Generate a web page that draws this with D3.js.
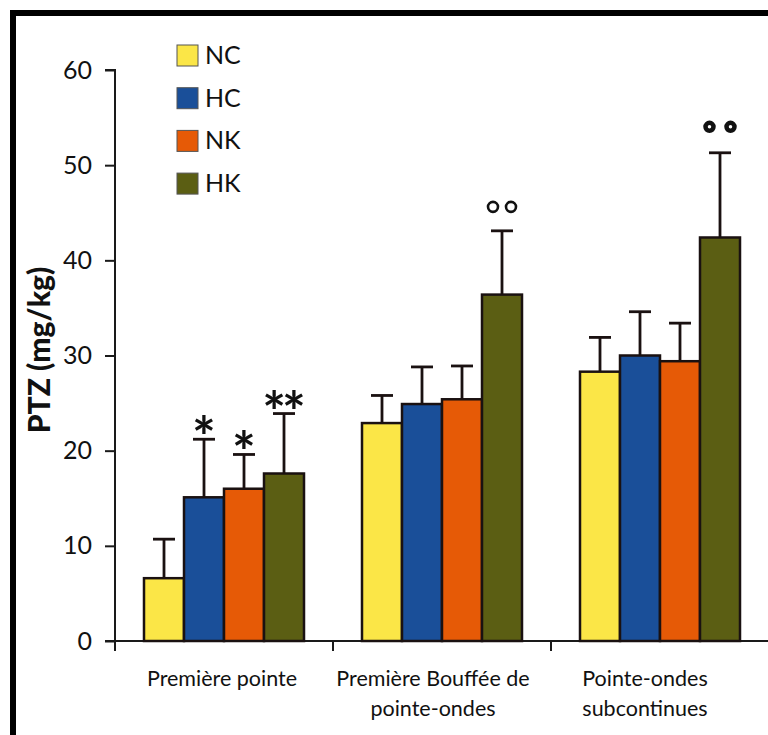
<!DOCTYPE html>
<html>
<head>
<meta charset="utf-8">
<script src="https://cdn.jsdelivr.net/npm/d3@7"></script>
<style>
  html, body { margin: 0; padding: 0; background: #fff; }
  svg { display: block; }
  text { font-family: Lato, "Open Sans", sans-serif; fill: #111; }
</style>
</head>
<body>
<svg id="chart" width="768" height="735"></svg>
<script>
// PTZ threshold doses by seizure stage and animal group
const categories = [["Première pointe"], ["Première Bouffée de", "pointe-ondes"], ["Pointe-ondes", "subcontinues"]];
const groups = ["NC", "HC", "NK", "HK"];
const colors = ["#fbe647", "#1a4f99", "#e65a06", "#5b5e13"];
const means = [
  [6.6, 15.1, 16.0, 17.6],
  [22.9, 24.9, 25.4, 36.4],
  [28.3, 30.0, 29.4, 42.4]
];
const errors = [
  [4.1, 6.1, 3.6, 6.3],
  [2.9, 3.9, 3.5, 6.7],
  [3.6, 4.6, 4.0, 8.9]
];
const marks = [
  ["", "*", "*", "**"],
  ["", "", "", "oo"],
  ["", "", "", "••"]
];
const yTicks = [0, 10, 20, 30, 40, 50, 60];

const svg = d3.select("#chart");
const W = 768, H = 735;
const plotLeft = 115, plotBottom = 641, plotTop = 70;

// frame (top and left rules)
svg.append("rect").attr("x", 10).attr("y", 10).attr("width", W).attr("height", 6).attr("fill", "#000");
svg.append("rect").attr("x", 10).attr("y", 10).attr("width", 6).attr("height", H).attr("fill", "#000");

const x = d3.scaleBand().domain(d3.range(categories.length)).range([plotLeft, plotLeft + 218 * 3]).padding(0);
const y = d3.scaleLinear().domain([0, 60]).range([plotBottom, plotTop]);
const inner = d3.scaleBand().domain(groups).range([0, 160]).padding(0);
const groupOffset = (x.bandwidth() - 160) / 2;

// y axis
const yAxis = svg.append("g").attr("transform", `translate(${plotLeft},0)`)
  .call(d3.axisLeft(y).tickValues(yTicks).tickSize(10).tickPadding(13));
yAxis.select(".domain").attr("stroke", "#1a1a1a").attr("stroke-width", 2).attr("d", `M-10,${y(60)}H0V${plotBottom}`);
yAxis.selectAll(".tick line").attr("stroke", "#1a1a1a").attr("stroke-width", 2);
yAxis.selectAll(".tick text").attr("font-size", 25).attr("font-family", "Lato, sans-serif").attr("fill", "#111");

// x axis
const xAxisG = svg.append("g").attr("transform", `translate(0,${plotBottom})`);
xAxisG.append("line").attr("x1", plotLeft - 10).attr("x2", W).attr("y1", 0).attr("y2", 0)
  .attr("stroke", "#1a1a1a").attr("stroke-width", 2);
xAxisG.selectAll("line.tk").data(d3.range(categories.length + 1)).join("line").attr("class", "tk")
  .attr("x1", i => plotLeft + i * x.step()).attr("x2", i => plotLeft + i * x.step())
  .attr("y1", 0).attr("y2", 10).attr("stroke", "#1a1a1a").attr("stroke-width", 2);

// category labels
const labelShift = [-2, -9, -15];
categories.forEach((lines, i) => {
  const cx = x(i) + x.bandwidth() / 2 + labelShift[i];
  const t = svg.append("text").attr("text-anchor", "middle").attr("font-size", 21.5)
    .attr("x", cx).attr("y", 686);
  lines.forEach((ln, j) => {
    t.append("tspan").attr("x", cx).attr("dy", j === 0 ? 0 : 30).text(ln);
  });
});

// y axis title
svg.append("text").attr("transform", `translate(50,350) rotate(-90)`)
  .attr("text-anchor", "middle").attr("font-size", 30).attr("font-weight", "900").text("PTZ (mg/kg)");

// bars with error bars and significance marks
categories.forEach((c, i) => {
  const g = svg.append("g").attr("transform", `translate(${x(i) + groupOffset},0)`);
  groups.forEach((grp, k) => {
    const bx = inner(grp), bw = inner.bandwidth();
    const cx = bx + bw / 2;
    const top0 = y(means[i][k]), topE = y(means[i][k] + errors[i][k]);
    g.append("line").attr("x1", cx).attr("x2", cx).attr("y1", top0).attr("y2", topE)
      .attr("stroke", "#1a1111").attr("stroke-width", 2.8);
    g.append("line").attr("x1", cx - 11).attr("x2", cx + 11).attr("y1", topE).attr("y2", topE)
      .attr("stroke", "#1a1111").attr("stroke-width", 2.8);
    g.append("rect").attr("x", bx).attr("y", top0).attr("width", bw).attr("height", plotBottom - top0)
      .attr("fill", colors[k]).attr("stroke", "#1a1111").attr("stroke-width", 2.5);
    const m = marks[i][k];
    if (m.startsWith("*")) {
      const multi = m.length > 1;
      g.append("text").attr("x", cx).attr("y", topE + 18).attr("text-anchor", "middle")
        .attr("dx", multi ? -2 : 0)
        .attr("letter-spacing", multi ? -4 : 0)
        .attr("font-size", 56).attr("font-weight", "bold")
        .attr("font-family", "DejaVu Sans, sans-serif").text(m);
    } else if (m === "oo" || m === "••") {
      const heavy = m === "••";
      const sep = heavy ? 10.5 : 9;
      [-sep, sep].forEach(dx => {
        g.append("circle").attr("cx", cx + dx).attr("cy", topE - (heavy ? 26 : 24))
          .attr("r", heavy ? 4 : 5).attr("fill", "none").attr("stroke", "#111")
          .attr("stroke-width", heavy ? 4.5 : 2.6);
      });
    }
  });
});

// legend
const legend = svg.append("g");
groups.forEach((grp, k) => {
  const ly = 45 + k * 42.7;
  legend.append("rect").attr("x", 177).attr("y", ly).attr("width", 21).attr("height", 21)
    .attr("fill", colors[k]).attr("stroke", "#555").attr("stroke-width", 1);
  legend.append("text").attr("x", 205).attr("y", ly + 19).attr("font-size", 25).text(grp);
});
</script>
</body>
</html>
